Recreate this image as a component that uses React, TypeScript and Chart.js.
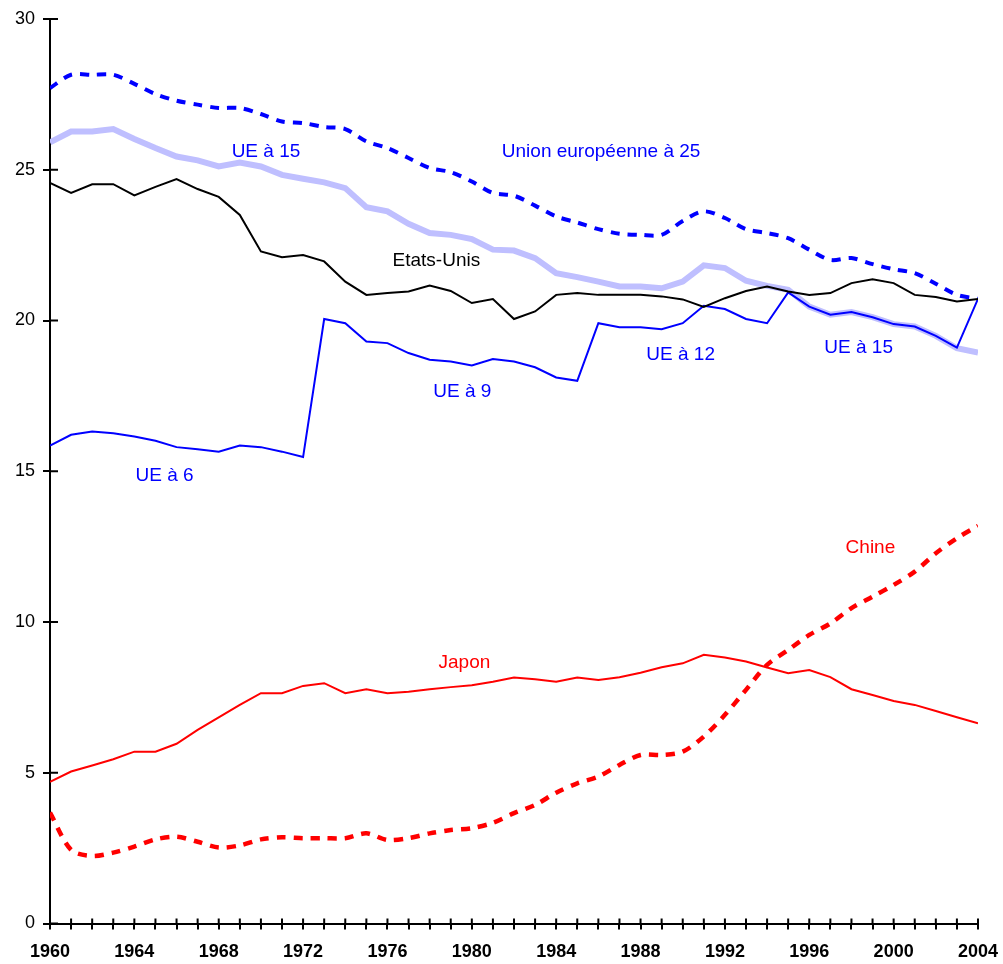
import React, { useEffect, useRef } from "react";
import { Chart, registerables } from "chart.js";

Chart.register(...registerables);

const years: number[] = [];
for (let y = 1960; y <= 2004; y++) years.push(y);

const etatsUnis = [24.56, 24.23, 24.52, 24.52, 24.15, 24.43, 24.69, 24.36, 24.1, 23.5, 22.29, 22.1, 22.17, 21.96, 21.29, 20.85, 20.91, 20.96, 21.16, 20.98, 20.58, 20.71, 20.05, 20.3, 20.85, 20.91, 20.85, 20.85, 20.85, 20.8, 20.7, 20.45, 20.74, 20.98, 21.13, 20.96, 20.85, 20.91, 21.24, 21.37, 21.24, 20.85, 20.78, 20.63, 20.71];

const ue25 = [27.71, 28.15, 28.15, 28.15, 27.85, 27.51, 27.29, 27.16, 27.05, 27.05, 26.85, 26.6, 26.55, 26.42, 26.35, 25.94, 25.72, 25.39, 25.06, 24.92, 24.61, 24.23, 24.14, 23.81, 23.45, 23.25, 23.03, 22.88, 22.84, 22.84, 23.3, 23.62, 23.4, 23.03, 22.9, 22.73, 22.35, 22.01, 22.07, 21.87, 21.7, 21.57, 21.22, 20.85, 20.72];

const ue15 = [25.91, 26.27, 26.27, 26.35, 26.02, 25.72, 25.44, 25.31, 25.11, 25.24, 25.11, 24.83, 24.7, 24.58, 24.39, 23.76, 23.62, 23.21, 22.9, 22.84, 22.7, 22.35, 22.32, 22.07, 21.57, 21.44, 21.29, 21.13, 21.13, 21.07, 21.29, 21.83, 21.74, 21.32, 21.15, 21.02, 20.46, 20.19, 20.28, 20.11, 19.88, 19.8, 19.49, 19.08, 18.94];

const ueActuelle = [15.85, 16.21, 16.32, 16.26, 16.15, 16.01, 15.8, 15.73, 15.65, 15.85, 15.8, 15.65, 15.47, 20.05, 19.91, 19.3, 19.25, 18.92, 18.7, 18.64, 18.51, 18.72, 18.64, 18.45, 18.11, 18.0, 19.91, 19.78, 19.78, 19.71, 19.91, 20.49, 20.38, 20.05, 19.91, 20.93, 20.46, 20.19, 20.28, 20.11, 19.88, 19.8, 19.49, 19.1, 20.72];

const chine = [3.68, 2.44, 2.24, 2.35, 2.55, 2.79, 2.88, 2.71, 2.52, 2.59, 2.79, 2.86, 2.83, 2.83, 2.83, 2.99, 2.77, 2.83, 2.99, 3.1, 3.16, 3.34, 3.66, 3.93, 4.34, 4.65, 4.87, 5.26, 5.59, 5.59, 5.7, 6.2, 6.92, 7.75, 8.58, 9.07, 9.57, 9.95, 10.46, 10.84, 11.23, 11.67, 12.28, 12.78, 13.19];

const japon = [4.7, 5.04, 5.24, 5.45, 5.7, 5.7, 5.96, 6.42, 6.84, 7.25, 7.64, 7.64, 7.88, 7.97, 7.64, 7.77, 7.64, 7.69, 7.77, 7.84, 7.9, 8.02, 8.16, 8.1, 8.02, 8.16, 8.08, 8.17, 8.32, 8.5, 8.63, 8.91, 8.82, 8.69, 8.49, 8.3, 8.41, 8.17, 7.77, 7.58, 7.38, 7.25, 7.05, 6.84, 6.64];

const labelTexts = ["UE à 15", "Union européenne à 25", "Etats-Unis", "UE à 9", "UE à 12", "UE à 15", "UE à 6", "Chine", "Japon"];
const labelYears = [1970.24, 1986.13, 1978.32, 1979.55, 1989.9, 1998.34, 1965.43, 1998.9, 1979.65];
const labelValues = [25.66, 25.66, 22.02, 17.7, 18.92, 19.16, 14.91, 12.53, 8.71];
const labelColors = ["#0000ff", "#0000ff", "#000000", "#0000ff", "#0000ff", "#0000ff", "#0000ff", "#ff0000", "#ff0000"];

const FONT = "'Liberation Sans', Arial, sans-serif";

const pts = (arr: number[]) => arr.map((v, i) => ({ x: years[i], y: v }));

const labelPlugin = {
  id: "seriesLabels",
  afterDraw(chart: any) {
    const { ctx, scales } = chart;
    const xs = scales.x;
    const ys = scales.y;
    ctx.save();
    ctx.strokeStyle = "#000";
    ctx.lineWidth = 2;
    ctx.beginPath();
    xs.ticks.forEach((t: any) => {
      const px = xs.getPixelForValue(t.value);
      ctx.moveTo(px, ys.bottom);
      ctx.lineTo(px, ys.bottom - 5);
    });
    ys.ticks.forEach((t: any) => {
      const py = ys.getPixelForValue(t.value);
      ctx.moveTo(xs.left, py);
      ctx.lineTo(xs.left + 8, py);
    });
    ctx.stroke();
    const size = 19;
    ctx.font = `${size}px ${FONT}`;
    ctx.textAlign = "center";
    ctx.textBaseline = "alphabetic";
    labelTexts.forEach((txt, i) => {
      ctx.fillStyle = labelColors[i];
      const px = xs.getPixelForValue(labelYears[i]);
      const py = ys.getPixelForValue(labelValues[i]);
      ctx.fillText(txt, px, py + size * 0.36);
    });
    ctx.restore();
  },
};

export default function App() {
  const ref = useRef<HTMLCanvasElement | null>(null);
  useEffect(() => {
    document.body.style.margin = "0";
    const canvas = ref.current;
    if (!canvas) return;
    const chart = new Chart(canvas, {
      type: "line",
      data: {
        datasets: [
          {
            label: "Etats-Unis",
            data: pts(etatsUnis),
            borderColor: "#000000",
            borderWidth: 2,
            pointRadius: 0,
            tension: 0,
          },
          {
            label: "UE (composition effective)",
            data: pts(ueActuelle),
            borderColor: "#0000ff",
            borderWidth: 2,
            pointRadius: 0,
            tension: 0,
          },
          {
            label: "Japon",
            data: pts(japon),
            borderColor: "#ff0000",
            borderWidth: 2,
            pointRadius: 0,
            tension: 0,
          },
          {
            label: "Chine",
            data: pts(chine),
            borderColor: "#ff0000",
            borderWidth: 4.5,
            borderDash: [9, 8],
            pointRadius: 0,
            tension: 0.3,
          },
          {
            label: "Union européenne à 25",
            data: pts(ue25),
            borderColor: "#0000ff",
            borderWidth: 4,
            borderDash: [9, 8],
            pointRadius: 0,
            tension: 0.3,
          },
          {
            label: "UE à 15",
            data: pts(ue15),
            borderColor: "#bfbfff",
            borderWidth: 6,
            pointRadius: 0,
            tension: 0,
          },
        ],
      },
      options: {
        animation: false,
        responsive: true,
        maintainAspectRatio: false,
        layout: { padding: { left: 0, right: 25, top: 19, bottom: 0 } },
        plugins: {
          legend: { display: false },
          tooltip: { enabled: false },
        },
        scales: {
          x: {
            type: "linear",
            min: 1960,
            max: 2004,
            afterFit: (s: any) => {
              s.height = 40.5;
              s.paddingLeft = 0;
              s.paddingRight = 0;
            },
            border: { display: true, color: "#000", width: 2 },
            grid: {
              drawOnChartArea: false,
              drawTicks: true,
              tickLength: 6,
              color: "#000",
              lineWidth: 2,
            },
            ticks: {
              stepSize: 1,
              autoSkip: false,
              maxRotation: 0,
              padding: 12,
              color: "#000",
              font: { family: FONT, size: 18, weight: "bold" },
              callback: (v: any) => ((Number(v) - 1960) % 4 === 0 ? String(v) : ""),
            },
          },
          y: {
            min: 0,
            max: 30,
            afterFit: (s: any) => {
              s.width = 50;
              s.paddingTop = 0;
              s.paddingBottom = 0;
            },
            border: { display: true, color: "#000", width: 2 },
            grid: {
              drawOnChartArea: false,
              drawTicks: true,
              tickLength: 7,
              color: "#000",
              lineWidth: 2,
            },
            ticks: {
              stepSize: 5,
              padding: 8,
              color: "#000",
              font: { family: FONT, size: 18 },
            },
          },
        },
      },
      plugins: [labelPlugin],
    } as any);
    return () => chart.destroy();
  }, []);
  return (
    <div style={{ width: 1003, height: 964, position: "relative" }}>
      <canvas ref={ref} />
    </div>
  );
}
